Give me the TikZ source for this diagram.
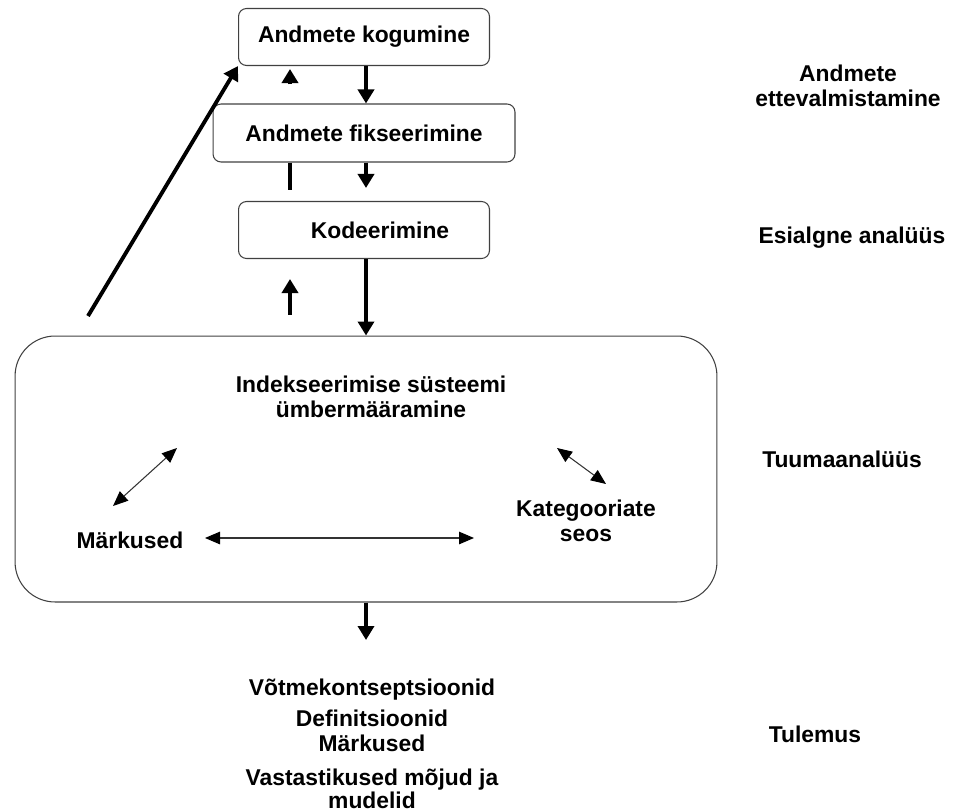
\documentclass[tikz,border=0pt]{standalone}
\usepackage{fontspec}
\setmainfont{Liberation Sans}
\usetikzlibrary{arrows.meta}
\usetikzlibrary{calc}

\tikzset{
  etapp/.style={draw=black!75, line width=0.6pt, rounded corners=0.16cm,
    font=\fontsize{13}{14.2}\selectfont\bfseries, inner sep=0pt},
  silt/.style={font=\fontsize{13}{14.2}\selectfont\bfseries, align=center, inner sep=0pt},
  jamenool/.style={line width=2.2pt, -{Triangle[width=0.32cm,length=0.28cm]}},
  seosnool/.style={draw=black!80, line width=0.6pt,
    {Triangle[width=0.25cm,length=0.3cm,color=black]}-{Triangle[width=0.25cm,length=0.3cm,color=black]}}
}

\begin{document}
\begin{tikzpicture}[x=0.02cm, y=-0.02cm]
      \useasboundingbox (0,0) rectangle (953,811);

      \node[etapp, minimum width=5.02cm, minimum height=1.14cm] (kogumine) at (364,37) {Andmete kogumine};
      \node[etapp, minimum width=6.04cm, minimum height=1.16cm] (fikseerimine) at (364,133) {Andmete fikseerimine};
      \node[etapp, minimum width=5.02cm, minimum height=1.14cm] (kodeerimine) at (364,230) {\hspace{0.64cm}Kodeerimine};
      \node[etapp, rounded corners=0.8cm, minimum width=14.04cm, minimum height=5.32cm] (tuum) at (366,469) {};

      \node[silt] (indeks) at (371,397) {Indekseerimise süsteemi\\ümbermääramine};
      \node[silt] (markused) at (130,540) {Märkused};
      \node[silt] (kategooriad) at (586,521) {Kategooriate\\seos};
      \node[silt] (tulemused) at (372,744) {Võtmekontseptsioonid\\[3.4pt]Definitsioonid\\Märkused\\[5pt]Vastastikused mõjud ja\\[-1.2pt]mudelid};

      \node[silt] (ettevalm) at (848,86) {Andmete\\ettevalmistamine};
      \node[silt] (esialgne) at (852,238) {Esialgne analüüs};
      \node[silt] (tuumaan) at (842,459) {Tuumaanalüüs};
      \node[silt] (tulemus) at (815,734) {Tulemus};

      \coordinate (colA) at (290,0);
      \coordinate (colB) at (366,0);
      \coordinate (tagasiside) at (88,316);
      \coordinate (tulemusnool) at (366,640);

      \draw[jamenool] (kogumine.south -| colB) -- (fikseerimine.north -| colB);
      \draw[jamenool, shorten <=0.38cm, shorten >=0.06cm] (fikseerimine.north -| colA) -- (kogumine.south -| colA);
      \draw[line width=2.2pt, shorten >=0.22cm] (fikseerimine.south -| colA) -- (kodeerimine.north -| colA);
      \draw[jamenool, shorten >=0.26cm] (fikseerimine.south -| colB) -- (kodeerimine.north -| colB);
      \draw[jamenool] (kodeerimine.south -| colB) -- (tuum.north -| colB);
      \draw[jamenool, shorten <=0.42cm, shorten >=0.4cm] (tuum.north -| colA) -- (kodeerimine.south -| colA);
      \draw[jamenool] (tagasiside) -- (kogumine.south west);
      \draw[jamenool] (tuum.south -| colB) -- (tulemusnool);

      \coordinate (markused-ne) at (113,506);
      \coordinate (indeks-sw) at (177,448);
      \coordinate (indeks-se) at (557,448);
      \coordinate (kategooriad-nw) at (606,484);
      \coordinate (markused-e) at (205,538);
      \coordinate (kategooriad-w) at (474,538);

      \draw[seosnool] (markused-ne) -- (indeks-sw);
      \draw[seosnool] (indeks-se) -- (kategooriad-nw);
      \draw[seosnool] (markused-e) -- (kategooriad-w);
    \end{tikzpicture}
\end{document}
